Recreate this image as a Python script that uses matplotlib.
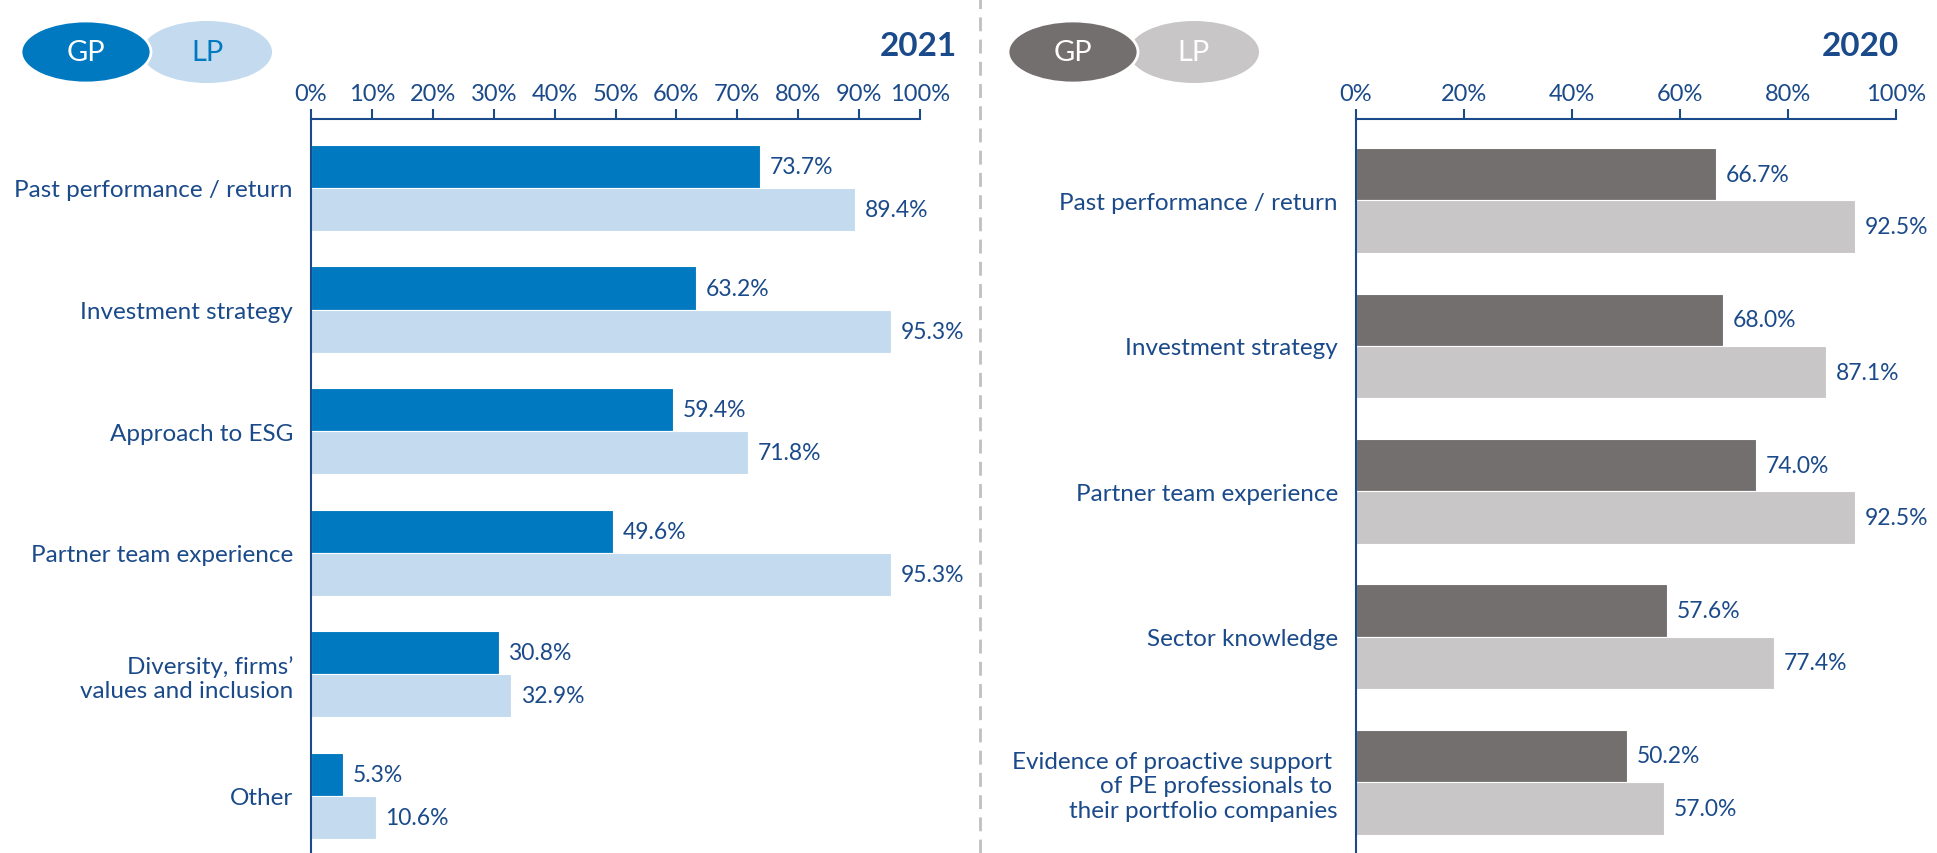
import matplotlib
matplotlib.use('Agg')
from matplotlib import pyplot as plt
from matplotlib.patches import Ellipse
from matplotlib.lines import Line2D

plt.rcParams['font.family'] = ['Lato', 'DejaVu Sans']

# data
cats_2021 = ['Past performance / return', 'Investment strategy', 'Approach to ESG',
             'Partner team experience', 'Diversity, firms\u2019\nvalues and inclusion', 'Other']
gp_2021 = [73.7, 63.2, 59.4, 49.6, 30.8, 5.3]
lp_2021 = [89.4, 95.3, 71.8, 95.3, 32.9, 10.6]
ticks_2021 = [0, 10, 20, 30, 40, 50, 60, 70, 80, 90, 100]

cats_2020 = ['Past performance / return', 'Investment strategy', 'Partner team experience',
             'Sector knowledge',
             'Evidence of proactive support \nof PE professionals to \ntheir portfolio companies']
gp_2020 = [66.7, 68.0, 74.0, 57.6, 50.2]
lp_2020 = [92.5, 87.1, 92.5, 77.4, 57.0]
ticks_2020 = [0, 20, 40, 60, 80, 100]

NAVY = '#1b4a8a'
W, H = 1937, 854


def draw_panel(fig, rect, cats, gp, lp, ticks, ylim, bh, c_gp, c_lp):
    ax = fig.add_axes(rect)
    y = list(range(len(cats)))
    ax.barh([i - bh / 2 for i in y], gp, height=bh, color=c_gp, edgecolor='white', linewidth=0.8)
    ax.barh([i + bh / 2 for i in y], lp, height=bh, color=c_lp, edgecolor='white', linewidth=0.8)
    for i in y:
        ax.annotate('%.1f%%' % gp[i], (gp[i], i - bh / 2), xytext=(7, 0),
                    textcoords='offset points', va='center', ha='left',
                    color=NAVY, fontsize=16.5, annotation_clip=False)
        ax.annotate('%.1f%%' % lp[i], (lp[i], i + bh / 2), xytext=(7, 0),
                    textcoords='offset points', va='center', ha='left',
                    color=NAVY, fontsize=16.5, annotation_clip=False)
    ax.set_xlim(0, 100)
    ax.set_ylim(*ylim)
    ax.set_yticks(y)
    ax.set_yticklabels(cats, fontsize=17.5, color=NAVY, ha='right', multialignment='right')
    ax.xaxis.tick_top()
    ax.set_xticks(ticks)
    ax.set_xticklabels(['%d%%' % t for t in ticks], fontsize=17, color=NAVY)
    ax.tick_params(axis='x', direction='out', length=7, width=1.5, color=NAVY, pad=4)
    ax.tick_params(axis='y', length=0, pad=13)
    for s in ['right', 'bottom']:
        ax.spines[s].set_visible(False)
    for s in ['left', 'top']:
        ax.spines[s].set_color(NAVY)
        ax.spines[s].set_linewidth(1.5)
    return ax


def legend_bubbles(fig, cx, c_gp, c_lp, lp_text):
    cy = 1 - 53 / H
    w, h = 130 / W, 62 / H
    fig.add_artist(Ellipse((cx + 121 / W, cy), w, h, facecolor=c_lp, edgecolor='none',
                           transform=fig.transFigure))
    fig.add_artist(Ellipse((cx, cy), w, h, facecolor=c_gp, edgecolor='white', linewidth=2,
                           transform=fig.transFigure))
    fig.text(cx, cy, 'GP', color='white', fontsize=21, ha='center', va='center')
    fig.text(cx + 121 / W, cy, 'LP', color=lp_text, fontsize=21, ha='center', va='center')


fig = plt.figure(figsize=(W / 100, H / 100), dpi=100)

top = 1 - 120 / H
draw_panel(fig, [311 / W, 0, 609 / W, top], cats_2021, gp_2021, lp_2021, ticks_2021,
           (5.47, -0.567), 0.354, '#0079c1', '#c3daef')
draw_panel(fig, [1356 / W, 0, 540 / W, top], cats_2020, gp_2020, lp_2020, ticks_2020,
           (4.487, -0.56), 0.36, '#736f6e', '#c8c6c6')

legend_bubbles(fig, 86 / W, '#0079c1', '#c3daef', '#0079c1')
legend_bubbles(fig, 1073 / W, '#736f6e', '#c8c6c6', 'white')

fig.text(957 / W, 1 - 47 / H, '2021', fontsize=24, fontweight='bold', color=NAVY,
         ha='right', va='center')
fig.text(1899 / W, 1 - 47 / H, '2020', fontsize=24, fontweight='bold', color=NAVY,
         ha='right', va='center')

fig.add_artist(Line2D([980 / W, 980 / W], [0, 1], transform=fig.transFigure,
                      color='#c0c0c0', linewidth=2, linestyle=(0, (5, 3))))

fig.savefig('out.png', dpi=100)
